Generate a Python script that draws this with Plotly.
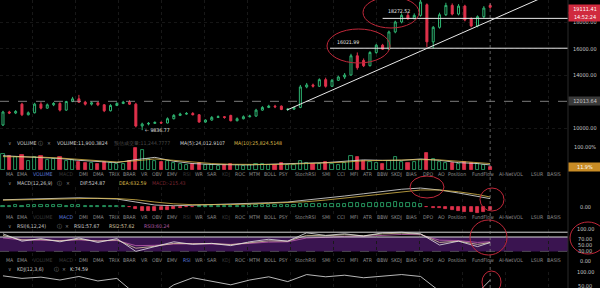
import plotly.graph_objects as go

# ---------------- data ----------------
opens  = [10226,11207,11130,11800,11000,11150,11800,11500,11750,11850,11350,12000,12200,11950,11800,11900,11750,11300,11700,11850,
          11950,11800,10150,10300,10350,10420,10380,10700,10950,11050,11100,11000,10450,10600,10800,10850,10950,10550,10700,10850,
          10900,11350,11550,11650,11650,11400,11420,11550,13100,13250,13150,13650,13150,13600,13850,14000,15450,15100,14700,15700,
          16250,15950,17250,18000,18500,18250,18500,19300,16500,17600,18550,19250,18600,19200,18250,17700,18400,19250]
highs  = [11300,11300,11350,11900,11250,11900,11950,11850,11950,11950,12050,12350,12500,12050,12000,11950,11800,11800,11950,12050,
          12100,11900,10400,10450,10500,10500,10800,11050,11150,11200,11200,11050,10650,10900,10950,10900,11000,10800,10950,11000,
          11450,11650,11750,11750,11700,11500,11600,13250,13400,13350,13750,13800,13700,13950,14150,15600,15700,15250,15800,16350,
          16350,17350,18100,18650,18700,18650,19700,19400,17700,18700,19450,19400,19350,19300,18350,18500,19200,19400]
lows   = [10150,11050,11050,10900,10950,11100,11400,11450,11650,11250,11300,11950,11900,11700,11700,11650,11200,11250,11650,11800,
          11750,10050,9836.77,10200,10300,10300,10350,10650,10900,11000,10950,10400,10400,10550,10750,10700,10500,10500,10650,10800,
          10850,11300,11500,11500,11350,11300,11380,11500,13000,13050,13100,13050,13100,13550,13700,13950,14400,14600,14650,15600,
          15900,15900,17150,17900,18150,18200,18400,16100,16021.99,17500,18450,18500,18500,18050,17600,17600,18300,19000]
closes = [11207,11130,11250,11000,11150,11800,11500,11750,11850,11350,12000,12200,11950,11800,11900,11750,11300,11700,11850,11950,
          11800,10150,10300,10350,10420,10380,10700,10950,11050,11100,11000,10450,10600,10800,10850,10800,10550,10700,10850,10900,
          11350,11550,11650,11600,11400,11420,11550,13100,13250,13150,13650,13150,13600,13850,14000,15450,14550,14700,15700,16250,
          15950,17250,18000,18500,18250,18500,19500,16500,17600,18550,19250,18600,19200,18150,17700,18400,19050,19111.41]
volumes = [70,60,55,65,40,55,60,45,50,55,40,45,35,30,32,28,35,30,25,28,
           40,95,85,50,40,35,38,30,25,22,28,30,22,20,18,20,25,20,18,22,
           28,25,20,22,30,20,22,40,30,28,25,35,25,22,30,60,55,40,35,30,
           28,40,55,35,30,35,45,75,50,35,30,32,25,35,30,25,22,12]
macd_hist = [60,60,70,60,70,80,80,70,80,80,60,80,70,60,40,30,20,10,20,10,
             -20,-150,-280,-320,-300,-260,-220,-160,-100,-60,-30,10,20,30,40,40,40,50,60,70,
             90,100,100,90,80,80,90,150,180,170,160,170,180,200,200,250,220,200,220,240,
             230,260,280,250,230,220,200,-60,-80,-100,-150,-250,-300,-350,-380,-420,-350,-215.43]

# indicator lines, read every third candle
line_idx = [0,3,6,9,12,15,18,21,24,27,30,33,36,39,42,45,48,51,54,57,60,63,66,69,72,75,77]
vol_ma5  = [62,58,55,50,42,36,32,45,55,38,28,24,22,22,25,26,30,32,38,44,42,42,48,42,32,28,22]
vol_ma10 = [58,58,56,52,46,40,35,40,48,42,34,28,25,23,24,25,28,30,34,40,42,42,45,44,38,32,28]
dif = [450,480,520,560,580,540,500,300,100,50,80,120,150,200,250,300,420,560,700,850,1000,1150,1230,1100,900,700,524.87]
dea = [420,450,480,520,550,550,530,450,300,180,120,110,130,160,200,250,320,430,560,700,850,1000,1100,1100,980,800,632.59]
rsi1 = [85,62,70,60,72,58,70,30,45,60,52,55,48,60,68,62,88,80,85,78,88,90,85,50,62,45,57.67]
rsi2 = [80,66,67,63,68,62,66,40,46,55,54,55,51,57,63,62,80,79,82,79,85,87,84,58,62,52,57.62]
rsi3 = [72,66,65,64,66,63,64,48,49,53,54,54,52,55,59,60,72,74,77,77,81,83,82,65,64,58,60.24]
kdj_k = [88,80,84,75,86,72,80,30,20,60,82,70,60,75,85,70,92,85,90,82,88,92,86,40,45,35,74.59]

# levels drawn on the price chart
support_level = 12013.64
level_lines = [16021.99, 18272.52]
level_starts = [51.7, 60.0]
trend_x = [44.9, 86.0]
trend_y = [11360, 20000]
last_price = 19111.41
countdown = "14:52:24"
vol_pct = 11.9

price_ticks = [10000, 14000, 16000, 18000]
rsi_ticks = [100, 70, 50, 30, 0]
tab_labels = ["MA","EMA","VOLUME","MACD","DMI","DMA","TRIX","BRAR","VR","OBV","EMV","RSI","WR","SAR","KDJ","ROC","MTM",
              "BOLL","PSY","StochRSI","SMI","CCI","MFI","ATR","BBW","SKDJ","BIAS","DPO","AO","Position","FundFlow",
              "AI-NetVOL","LSUR","BASIS"]

# ---------------- styling / layout ----------------
W, H = 600, 288
GREEN = "#2fb673"
RED = "#e0314b"
YEL = "#d9b84a"
ERED = "#c0283a"
FONT = "Liberation Sans Narrow, DejaVu Sans Condensed, Liberation Sans, Arial"
FS = 5.2
PLOT_R = 568 / W
N = len(closes)
idx = list(range(N))
XR = [-0.47, 89.3]

def yp(p):
    return 1 - p / H

def xp(p):
    return p / W

up = [c >= o for o, c in zip(opens, closes)]

fig = go.Figure()

fig.add_trace(go.Candlestick(
    x=idx, open=opens, high=highs, low=lows, close=closes, xaxis="x", yaxis="y",
    increasing=dict(line=dict(color=GREEN, width=1), fillcolor="rgba(0,0,0,0)"),
    decreasing=dict(line=dict(color=RED, width=1), fillcolor=RED),
    whiskerwidth=0, showlegend=False, hoverinfo="skip"))

fig.add_trace(go.Bar(
    x=idx, y=volumes, xaxis="x2", yaxis="y2", width=0.5,
    marker=dict(color=["rgba(0,0,0,0)" if u else RED for u in up],
                line=dict(color=[GREEN if u else RED for u in up], width=0.8)),
    showlegend=False, hoverinfo="skip"))
fig.add_trace(go.Scatter(x=line_idx, y=vol_ma5, xaxis="x2", yaxis="y2", mode="lines",
                         line=dict(color="#e6e6e6", width=0.8), showlegend=False))
fig.add_trace(go.Scatter(x=line_idx, y=vol_ma10, xaxis="x2", yaxis="y2", mode="lines",
                         line=dict(color=YEL, width=0.8), showlegend=False))

fig.add_trace(go.Bar(
    x=idx, y=macd_hist, xaxis="x3", yaxis="y3", width=0.5,
    marker=dict(color=["rgba(0,0,0,0)" if v >= 0 else RED for v in macd_hist],
                line=dict(color=[GREEN if v >= 0 else RED for v in macd_hist], width=0.8)),
    showlegend=False, hoverinfo="skip"))
fig.add_trace(go.Scatter(x=line_idx, y=dif, xaxis="x3", yaxis="y3", mode="lines",
                         line=dict(color="#e6e6e6", width=0.8), showlegend=False))
fig.add_trace(go.Scatter(x=line_idx, y=dea, xaxis="x3", yaxis="y3", mode="lines",
                         line=dict(color=YEL, width=0.8), showlegend=False))

for vals, col in [(rsi3, "#c060b0"), (rsi2, "#d8c8a0"), (rsi1, "#e6e6e6")]:
    fig.add_trace(go.Scatter(x=line_idx, y=vals, xaxis="x4", yaxis="y4", mode="lines",
                             line=dict(color=col, width=0.8), showlegend=False))

fig.add_trace(go.Scatter(x=line_idx, y=kdj_k, xaxis="x5", yaxis="y5", mode="lines",
                         line=dict(color="#e6e6e6", width=0.8), showlegend=False))

# axes
doms = {
    "": [yp(137), 1.0],
    "2": [yp(170), yp(147)],
    "3": [yp(214), yp(187)],
    "4": [yp(261), yp(229)],
    "5": [0.0, yp(272)],
}
ranges = {"": [9321, 19660], "2": [0, 100], "3": [-500, 1300], "4": [0, 100], "5": [50, 100]}
layout = dict(
    width=W, height=H, margin=dict(l=0, r=0, t=0, b=0),
    paper_bgcolor="#000000", plot_bgcolor="#000000",
    font=dict(family=FONT, size=FS, color="#c8c8c8"),
    showlegend=False, bargap=0, boxgap=0.55,
)
for k in ["", "2", "3", "4", "5"]:
    layout["xaxis" + k] = dict(domain=[0, PLOT_R], range=XR, showticklabels=False, zeroline=False,
                               showgrid=True, gridcolor="#181818", griddash="dot", tick0=4.6, dtick=6.8,
                               anchor="y" + k, showline=False, fixedrange=True,
                               rangeslider=dict(visible=False))
    layout["yaxis" + k] = dict(domain=doms[k], range=ranges[k], showticklabels=False, zeroline=False,
                               showgrid=False, anchor="x" + k, fixedrange=True)
layout["yaxis"].update(showgrid=True, gridcolor="#161616", griddash="dot",
                       tickvals=price_ticks)
fig.update_layout(**layout)

shapes = []
# purple RSI band and levels
shapes.append(dict(type="rect", xref="x4", yref="y4", x0=XR[0], x1=XR[1], y0=30, y1=75,
                   fillcolor="#3a1450", line=dict(width=0), layer="below"))
for lv in [90, 75]:
    shapes.append(dict(type="line", xref="x4", yref="y4", x0=XR[0], x1=XR[1], y0=lv, y1=lv,
                       line=dict(color="#d8d8d8", width=1)))
shapes.append(dict(type="line", xref="x4", yref="y4", x0=XR[0], x1=XR[1], y0=30, y1=30,
                   line=dict(color="#666", width=0.7, dash="dash")))
# price levels
shapes.append(dict(type="line", xref="x", yref="y", x0=XR[0], x1=XR[1], y0=support_level, y1=support_level,
                   line=dict(color="#9a9a9a", width=0.8, dash="dash")))
for lv, st in zip(level_lines, level_starts):
    shapes.append(dict(type="line", xref="x", yref="y", x0=st, x1=XR[1], y0=lv, y1=lv,
                       line=dict(color="#e8e8e8", width=1)))
shapes.append(dict(type="line", xref="x", yref="y", x0=trend_x[0], x1=trend_x[1], y0=trend_y[0], y1=trend_y[1],
                   line=dict(color="#e8e8e8", width=1)))
# crosshair at last candle and right separator
shapes.append(dict(type="line", xref="x", yref="paper", x0=idx[-1], x1=idx[-1], y0=0, y1=1,
                   line=dict(color="#8a8a8a", width=0.7, dash="dot")))
shapes.append(dict(type="line", xref="paper", yref="paper", x0=PLOT_R, x1=PLOT_R, y0=0, y1=1,
                   line=dict(color="#2a2a2a", width=1)))
# hand-drawn red ellipses (pixel boxes)
for x0, x1, y0, y1 in [(327, 390, 29, 63), (363, 419, -3, 28), (410, 444, 176, 198),
                       (480, 504, 188, 211), (470, 507, 220, 255), (482, 501, 271, 293), (570, 606, 222, 254)]:
    shapes.append(dict(type="circle", xref="paper", yref="paper", x0=xp(x0), x1=xp(x1), y0=yp(y1), y1=yp(y0),
                       line=dict(color=ERED, width=1)))
fig.update_layout(shapes=shapes)

ann = []
def txt(x, y, s, color="#c8c8c8", size=FS, anchor="left", **kw):
    ann.append(dict(x=xp(x), y=yp(y), xref="paper", yref="paper", text=s, showarrow=False,
                    xanchor=anchor, yanchor="middle", font=dict(color=color, size=size, family=FONT), **kw))

# right-hand axis labels placed via each panel's scale
AX = 585 / W
def axlab(yref, v, s, color="#c8c8c8", bg=None, yshift=0):
    d = dict(x=AX, xref="paper", y=v, yref=yref, text=s, showarrow=False, xanchor="center", yanchor="middle",
             font=dict(color=color, size=5.5, family=FONT), yshift=yshift)
    if bg:
        d.update(bgcolor=bg, width=30, borderpad=1)
    ann.append(d)

for v in price_ticks:
    axlab("y", v, f"{v:.2f}")
axlab("y", support_level, f"{support_level:.2f}", bg="#3a3a3a")
axlab("y", last_price, f"{last_price:.2f}", color="#ffffff", bg="#d02a3e", yshift=-2)
axlab("y", last_price, countdown, color="#ffffff", bg="#d02a3e", yshift=-10)
axlab("y2", 100, "100.00%")
axlab("y2", vol_pct, f"{vol_pct}%", color="#ffffff", bg="#c98c25")
axlab("y3", 0, "0.00")
for v in rsi_ticks:
    axlab("y4", v, f"{v:.2f}")
axlab("y5", 100, "100.00")
axlab("y5", 50, "50.00", yshift=2)

# price chart labels
ann.append(dict(x=level_starts[0] + 0.8, y=level_lines[0], xref="x", yref="y", text=f"{level_lines[0]:.2f}",
                showarrow=False, xanchor="left", yanchor="bottom", yshift=1,
                font=dict(color="#e0e0e0", size=FS, family=FONT)))
ann.append(dict(x=level_starts[1] + 0.5, y=level_lines[1], xref="x", yref="y", text=f"{level_lines[1]:.2f}",
                showarrow=False, xanchor="left", yanchor="bottom", yshift=2,
                font=dict(color="#e0e0e0", size=FS, family=FONT)))
imin = lows.index(min(lows))
ann.append(dict(x=imin, y=min(lows), xref="x", yref="y", text=f"← {min(lows):.2f}", showarrow=False,
                xanchor="left", yanchor="middle", xshift=1,
                font=dict(color="#e0e0e0", size=FS, family=FONT)))

# panel headers
GRAY = "#8c8c8c"
def header(y, name, ix, xx, items):
    txt(6, y, "∨", GRAY)
    txt(15, y, name, "#c8c8c8")
    txt(ix, y, "ⓘ", GRAY)
    txt(xx, y, "×", GRAY)
    for x, s, c in items:
        txt(x, y, s, c)

header(143, "VOLUME", 36, 45, [(55, "VOLUME:11,900.3824", "#d0d0d0"), (112, "预估成交量:11,244.7777", "#4a4a4a"),
                               (178, "MA(5):24,012.9107", "#d0d0d0"), (232, "MA(10):25,824.5148", YEL)])
header(183, "MACD(12,26,9)", 55, 64, [(78, "DIF:524.87", "#d0d0d0"), (117, "DEA:632.59", YEL),
                                      (150, "MACD:-215.43", "#7a2632")])
header(226, "RSI(6,12,24)", 55, 63, [(72, "RSI1:57.67", "#d0d0d0"), (107, "RSI2:57.62", "#d8c8a0"),
                                     (142, "RSI3:60.24", "#b05aa5")])
header(269, "KDJ(12,3,6)", 52, 60, [(68, "K:74.59", "#d0d0d0")])

# indicator tab rows
tab_x = [4, 15, 31, 57, 77, 91, 106, 121, 139, 150, 165, 181, 193, 205, 220, 233, 247, 262, 277, 293, 320, 335,
         348, 361, 375, 389, 404, 421, 436, 446, 470, 497, 529, 545]
BLUE = "#5a78d8"
DIM = "#3a3a3a"
for y, active in [(174, "VOLUME"), (217, "MACD"), (260, "RSI")]:
    for lab, x in zip(tab_labels, tab_x):
        if lab == active:
            c = BLUE
        elif lab in ("VOLUME", "MACD", "RSI", "KDJ"):
            c = DIM
        else:
            c = GRAY
        txt(x, y, lab, c)

fig.update_layout(annotations=ann)
fig.write_html("out.html")
